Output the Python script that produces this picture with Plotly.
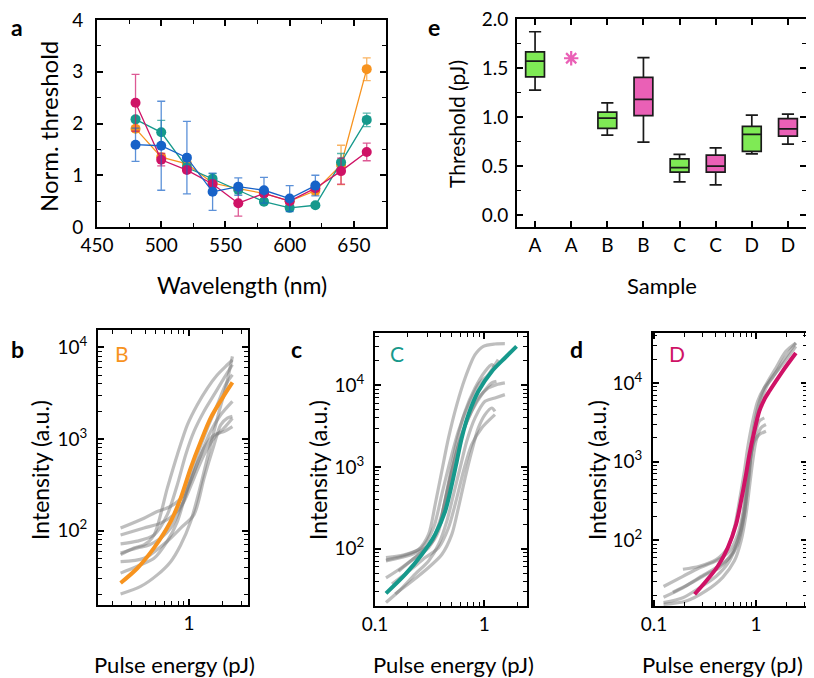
import plotly.graph_objects as go

# page offset of the plot inside the HTML body (default body margin)
OFF = 8
W, H = 806, 670
FONT = "Lato"

# ---------------- Panel a data ----------------
wl = [480, 500, 520, 540, 560, 580, 600, 620, 640, 660]
wl_blue = [480, 500, 520, 540, 560, 580, 600, 620]
a_orange = [1.9, 1.35, 1.22, 0.85, 0.74, 0.65, 0.5, 0.7, 1.2, 3.05]
a_orange_err = [0.05, 0.07, 0.05, 0.06, 0.05, 0.05, 0.05, 0.08, 0.38, 0.22]
a_teal = [2.08, 1.83, 1.15, 0.93, 0.72, 0.49, 0.37, 0.42, 1.25, 2.07]
a_teal_err = [0.05, 0.23, 0.06, 0.1, 0.08, 0.05, 0.04, 0.04, 0.17, 0.13]
a_magenta = [2.4, 1.3, 1.1, 0.83, 0.46, 0.65, 0.5, 0.75, 1.08, 1.45]
a_magenta_err = [0.55, 0.12, 0.05, 0.05, 0.25, 0.05, 0.05, 0.05, 0.25, 0.17]
a_blue = [1.59, 1.57, 1.34, 0.68, 0.78, 0.71, 0.55, 0.8]
a_blue_err = [0.32, 0.86, 0.7, 0.36, 0.17, 0.25, 0.25, 0.2]

# ---------------- Panel e data ----------------
e_pos = [1, 2, 3, 4, 5, 6, 7, 8]
e_labels = ["A", "A", "B", "B", "C", "C", "D", "D"]
e_box_pos = [1, 3, 4, 5, 6, 7, 8]
e_box_group = ["g", "g", "p", "g", "p", "g", "p"]
e_low = [1.275, 0.817, 0.745, 0.34, 0.31, 0.625, 0.725]
e_q1 = [1.41, 0.885, 1.015, 0.44, 0.44, 0.65, 0.807]
e_med = [1.57, 0.99, 1.18, 0.485, 0.50, 0.824, 0.88]
e_q3 = [1.665, 1.05, 1.405, 0.575, 0.612, 0.906, 0.985]
e_high = [1.87, 1.145, 1.607, 0.62, 0.687, 1.02, 1.03]
e_star_pos = [2]
e_star_val = [1.6]

# ---------------- Panel b data ----------------
b_fit_x = [0.239, 0.339, 0.481, 0.681, 0.84, 1.035, 1.28, 1.57, 2.01, 2.48]
b_fit_y = [26.9, 39, 65, 126, 227, 483, 944, 1694, 2800, 4150]
b_gray = [
    ([0.239, 0.39, 0.515, 0.681, 0.901, 1.11, 1.37, 1.69, 2.08, 2.48],
     [107, 137, 162, 184, 247, 443, 798, 1110, 1210, 1370]),
    ([0.239, 0.39, 0.552, 0.731, 0.901, 1.11, 1.37, 1.69, 2.08, 2.48],
     [90, 107, 121, 150, 209, 376, 675, 1030, 1320, 1690]),
    ([0.239, 0.339, 0.481, 0.635, 0.783, 0.933, 1.11, 1.37, 1.69, 2.08, 2.48],
     [72, 77, 90, 150, 318, 675, 1210, 2010, 3050, 4630, 6470]),
    ([0.239, 0.339, 0.433, 0.552, 0.681, 0.84, 1.035, 1.28, 1.57, 1.94, 2.48],
     [57, 65, 70, 83, 107, 177, 345, 675, 1210, 1840, 2580]),
    ([0.239, 0.339, 0.481, 0.635, 0.783, 0.966, 1.19, 1.47, 1.81, 2.15, 2.48],
     [34.5, 41, 50, 77, 126, 292, 675, 1320, 2370, 3920, 5030]),
    ([0.239, 0.364, 0.515, 0.681, 0.84, 1.035, 1.28, 1.57, 1.88, 2.15, 2.48],
     [20.4, 24.7, 33, 46, 70, 126, 318, 867, 2010, 3600, 7980]),
    ([0.239, 0.316, 0.39, 0.481, 0.635, 0.783, 0.966, 1.19, 1.47, 1.81, 2.23, 2.48],
     [55, 65, 70, 90, 292, 675, 1430, 2370, 3600, 5030, 6470, 7330]),
    ([0.239, 0.39, 0.635, 0.84, 1.11, 1.37, 1.69, 1.94, 2.23, 2.48],
     [46, 50, 77, 107, 150, 376, 867, 1430, 1690, 1770]),
]

# ---------------- Panel c data ----------------
c_fit_x = [0.126, 0.189, 0.268, 0.355, 0.438, 0.504, 0.56, 0.621, 0.715, 0.881, 1.17, 1.54, 1.97]
c_fit_y = [28.5, 48.6, 85, 150, 288, 611, 1178, 2270, 4380, 8450, 14800, 21600, 30000]
c_gray = [
    ([0.126, 0.176, 0.25, 0.309, 0.355, 0.408, 0.47, 0.56, 0.667, 0.822, 0.979, 1.25, 1.54],
     [73, 81, 98, 150, 348, 889, 2270, 5800, 12300, 23700, 30000, 32000, 32300]),
    ([0.126, 0.189, 0.268, 0.343, 0.408, 0.486, 0.579, 0.715, 0.881, 1.087, 1.34],
     [78, 85, 103, 181, 461, 1180, 2740, 5800, 10200, 13500, 20600]),
    ([0.126, 0.176, 0.25, 0.331, 0.408, 0.47, 0.54, 0.621, 0.766, 0.946, 1.17, 1.29],
     [44, 59, 85, 124, 263, 611, 1290, 2500, 4810, 7690, 10700, 11200]),
    ([0.126, 0.164, 0.233, 0.309, 0.381, 0.454, 0.522, 0.6, 0.69, 0.822, 1.014, 1.25, 1.54],
     [22, 30, 49, 71, 113, 218, 461, 977, 2070, 3990, 6370, 7000, 7690]),
    ([0.143, 0.203, 0.288, 0.381, 0.47, 0.56, 0.644, 0.766, 0.946, 1.25],
     [37, 53, 78, 103, 181, 420, 889, 1880, 3010, 4380]),
    ([0.164, 0.233, 0.309, 0.381, 0.438, 0.504, 0.579, 0.715, 0.881, 1.087, 1.29, 1.54],
     [53, 78, 103, 181, 382, 889, 1880, 3990, 7000, 9270, 10200, 10700]),
    ([0.153, 0.217, 0.309, 0.408, 0.504, 0.579, 0.667, 0.766, 0.881, 1.014, 1.17, 1.25],
     [28, 40, 59, 85, 150, 317, 738, 1560, 3010, 4380, 5280, 4810]),
    ([0.126, 0.217, 0.32, 0.381, 0.423, 0.486, 0.56, 0.667, 0.822, 1.014, 1.17, 1.25],
     [71, 85, 113, 164, 317, 809, 2070, 4810, 9270, 14800, 17900, 16300]),
]

# ---------------- Panel d data ----------------
d_fit_x = [0.25, 0.325, 0.422, 0.529, 0.638, 0.713, 0.798, 0.861, 0.963, 1.078, 1.206, 1.35, 1.82, 2.46]
d_fit_y = [20.7, 30.5, 47, 80.7, 160, 316, 687, 1233, 2440, 4370, 6150, 7830, 14060, 24000]
d_gray = [
    ([0.124, 0.192, 0.279, 0.407, 0.549, 0.662, 0.741, 0.798, 0.861, 0.928, 1.038, 1.206, 1.567, 1.963, 2.46],
     [26, 35, 45, 55, 73, 119, 214, 466, 1010, 2210, 4820, 8640, 15500, 25200, 32100]),
    ([0.124, 0.192, 0.279, 0.407, 0.549, 0.662, 0.741, 0.798, 0.861, 0.894, 0.963, 1.078, 1.252],
     [19, 25, 34, 45, 60, 89, 160, 316, 687, 1230, 1820, 2210, 2440]),
    ([0.124, 0.192, 0.279, 0.407, 0.549, 0.662, 0.769, 0.829, 0.894, 0.985, 1.119, 1.35, 1.82, 2.46],
     [16.2, 18.7, 25, 35, 55, 98, 214, 513, 1230, 2960, 5850, 10500, 17100, 29100]),
    ([0.192, 0.279, 0.407, 0.529, 0.614, 0.687, 0.769, 0.829, 0.928, 1.038, 1.206, 1.455, 1.82, 2.46],
     [43, 47, 57, 81, 145, 316, 757, 1500, 3270, 5850, 8640, 11600, 18800, 32100]),
    ([0.153, 0.223, 0.325, 0.438, 0.57, 0.687, 0.769, 0.829, 0.894, 0.963, 1.078, 1.206],
     [22, 28, 37, 45, 66, 119, 260, 623, 1230, 2010, 3270, 3600]),
    ([0.124, 0.207, 0.325, 0.472, 0.614, 0.713, 0.798, 0.861, 0.928, 1.0, 1.119, 1.252],
     [15.4, 17, 23, 34, 55, 98, 214, 466, 1010, 1820, 2690, 2960]),
]

ORANGE = "#F7931E"
TEAL = "#16998C"
MAGENTA = "#CF1266"
BLUE = "#1762C8"
GREEN_BOX = "#7FEA55"
PINK_BOX = "#EA60B6"
GRAY = "rgba(120,120,120,0.48)"

fig = go.Figure()

def err_col(hexc, a=0.7):
    h = hexc.lstrip("#")
    r, g, b = int(h[0:2], 16), int(h[2:4], 16), int(h[4:6], 16)
    return f"rgba({r},{g},{b},{a})"

for xs, ys, es, col in [(wl, a_orange, a_orange_err, ORANGE),
                        (wl, a_teal, a_teal_err, TEAL),
                        (wl, a_magenta, a_magenta_err, MAGENTA),
                        (wl_blue, a_blue, a_blue_err, BLUE)]:
    fig.add_trace(go.Scatter(
        x=xs, y=ys, mode="lines+markers",
        line=dict(color=col, width=1.3),
        marker=dict(color=col, size=10),
        error_y=dict(type="data", array=es, color=err_col(col), thickness=1.3, width=4),
        xaxis="x", yaxis="y", showlegend=False))

# panel e boxes
for p, g, lo, q1, md, q3, hi in zip(e_box_pos, e_box_group, e_low, e_q1, e_med, e_q3, e_high):
    fig.add_trace(go.Box(
        x=[p], q1=[q1], median=[md], q3=[q3], lowerfence=[lo], upperfence=[hi],
        fillcolor=GREEN_BOX if g == "g" else PINK_BOX,
        line=dict(color="#1a1a1a", width=1.7), width=0.52, whiskerwidth=0.65,
        boxpoints=False, xaxis="x2", yaxis="y2", showlegend=False))
fig.add_trace(go.Scatter(
    x=e_star_pos, y=e_star_val, mode="markers",
    marker=dict(symbol="asterisk-open", size=12, color=PINK_BOX,
                line=dict(color=PINK_BOX, width=2.2)),
    xaxis="x2", yaxis="y2", showlegend=False))

# panels b, c, d
for gray, fx, fy, col, xa, ya in [(b_gray, b_fit_x, b_fit_y, ORANGE, "x3", "y3"),
                                  (c_gray, c_fit_x, c_fit_y, TEAL, "x4", "y4"),
                                  (d_gray, d_fit_x, d_fit_y, MAGENTA, "x5", "y5")]:
    for gx, gy in gray:
        fig.add_trace(go.Scatter(x=gx, y=gy, mode="lines",
                                 line=dict(color=GRAY, width=3.2, shape="spline", smoothing=0.8),
                                 xaxis=xa, yaxis=ya, showlegend=False))
    fig.add_trace(go.Scatter(x=fx, y=fy, mode="lines",
                             line=dict(color=col, width=4, shape="spline", smoothing=0.8),
                             xaxis=xa, yaxis=ya, showlegend=False))

def px_x(px):
    return (px - OFF) / W

def px_y(py):
    return 1 - (py - OFF) / H

TICKFONT = dict(family=FONT, size=19, color="black")

def base_axis(**kw):
    d = dict(showline=True, linecolor="black", linewidth=2, mirror="ticks",
             ticks="inside", ticklen=6, tickwidth=1.5, tickcolor="black",
             showgrid=False, zeroline=False, tickfont=TICKFONT, automargin=False,
             ticklabeloverflow="allow")
    d.update(kw)
    return d

def log_minor(lo, hi):
    vals = []
    for dec in range(lo, hi + 1):
        for k in range(2, 10):
            vals.append(k * 10 ** dec)
    return vals

sup = {2: "10<sup>2</sup>", 3: "10<sup>3</sup>", 4: "10<sup>4</sup>"}

minor_lin = lambda dt: dict(dtick=dt, ticks="inside", ticklen=4, tickwidth=1.3, tickcolor="black")

layout = dict(
    width=W, height=H, margin=dict(l=0, r=0, t=0, b=0, pad=0),
    paper_bgcolor="white", plot_bgcolor="white",
    font=dict(family=FONT, color="black"),
    xaxis=base_axis(domain=[px_x(97), px_x(386)], range=[450, 675], dtick=50, tick0=450,
                    minor=minor_lin(25), anchor="y"),
    yaxis=base_axis(domain=[px_y(227), px_y(20)], range=[0, 4], dtick=1,
                    minor=minor_lin(0.5), anchor="x", ticklabelstandoff=8),
    xaxis2=base_axis(domain=[px_x(517), px_x(806)], range=[0.5, 8.5], tickmode="array",
                     tickvals=e_pos, ticktext=e_labels, anchor="y2"),
    yaxis2=base_axis(domain=[px_y(227), px_y(19)], range=[-0.12, 2.0], dtick=0.5, tick0=0,
                     tickformat=".1f", minor=minor_lin(0.25), anchor="x2", ticklabelstandoff=3),
)

def log_x(domain, rng, anchor):
    return base_axis(type="log", domain=domain, range=rng, tickmode="array",
                     tickvals=[0.1, 1], ticktext=["0.1", "1"], anchor=anchor,
                     minor=dict(tickmode="array", tickvals=log_minor(-1, 0), ticks="inside",
                                ticklen=4, tickwidth=1.3, tickcolor="black"))

def log_y(domain, rng, anchor):
    return base_axis(type="log", domain=domain, range=rng, tickmode="array",
                     tickvals=[100, 1000, 10000], ticktext=[sup[2], sup[3], sup[4]], anchor=anchor,
                     ticklabelstandoff=5,
                     minor=dict(tickmode="array", tickvals=log_minor(1, 4), ticks="inside",
                                ticklen=4, tickwidth=1.3, tickcolor="black"))

layout["xaxis3"] = log_x([px_x(98), px_x(248)], [-0.827, 0.536], "y3")
layout["yaxis3"] = log_y([px_y(605), px_y(330)], [1.19, 4.19], "x3")
layout["xaxis4"] = log_x([px_x(375), px_x(527)], [-1.0, 0.39], "y4")
layout["yaxis4"] = log_y([px_y(606), px_y(333)], [1.30, 4.64], "x4")
layout["xaxis5"] = log_x([px_x(653), px_x(807)], [-1.01, 0.5], "y5")
layout["yaxis5"] = log_y([px_y(606), px_y(333)], [1.167, 4.634], "x5")

fig.update_layout(**layout)

def ann(text, x, y, rot=0, size=22, color="black"):
    fig.add_annotation(text=text, x=px_x(x), y=px_y(y), xref="paper", yref="paper",
                       showarrow=False, textangle=rot,
                       font=dict(family=FONT, size=size, color=color),
                       xanchor="center", yanchor="middle")

ann("Norm. threshold", 48, 127, -90, size=24)
ann("Wavelength (nm)", 242, 285, size=23)
ann("Threshold (pJ)", 456, 124, -90, size=21)
ann("Sample", 662, 285, size=22)
for cx, tx in [(174, 40), (453, 318), (722, 597)]:
    ann("Pulse energy (pJ)", cx, 664, size=22)
    ann("Intensity (a.u.)", tx, 470, -90, size=23)

for t, x, y in [("a", 17, 27), ("e", 434, 27), ("b", 17, 349), ("c", 296, 349), ("d", 576, 349)]:
    ann("<b>%s</b>" % t, x, y, size=23)

ann("B", 122, 353, size=21, color=ORANGE)
ann("C", 397, 353, size=21, color=TEAL)
ann("D", 677, 353, size=21, color=MAGENTA)

fig.write_html("out.html")
